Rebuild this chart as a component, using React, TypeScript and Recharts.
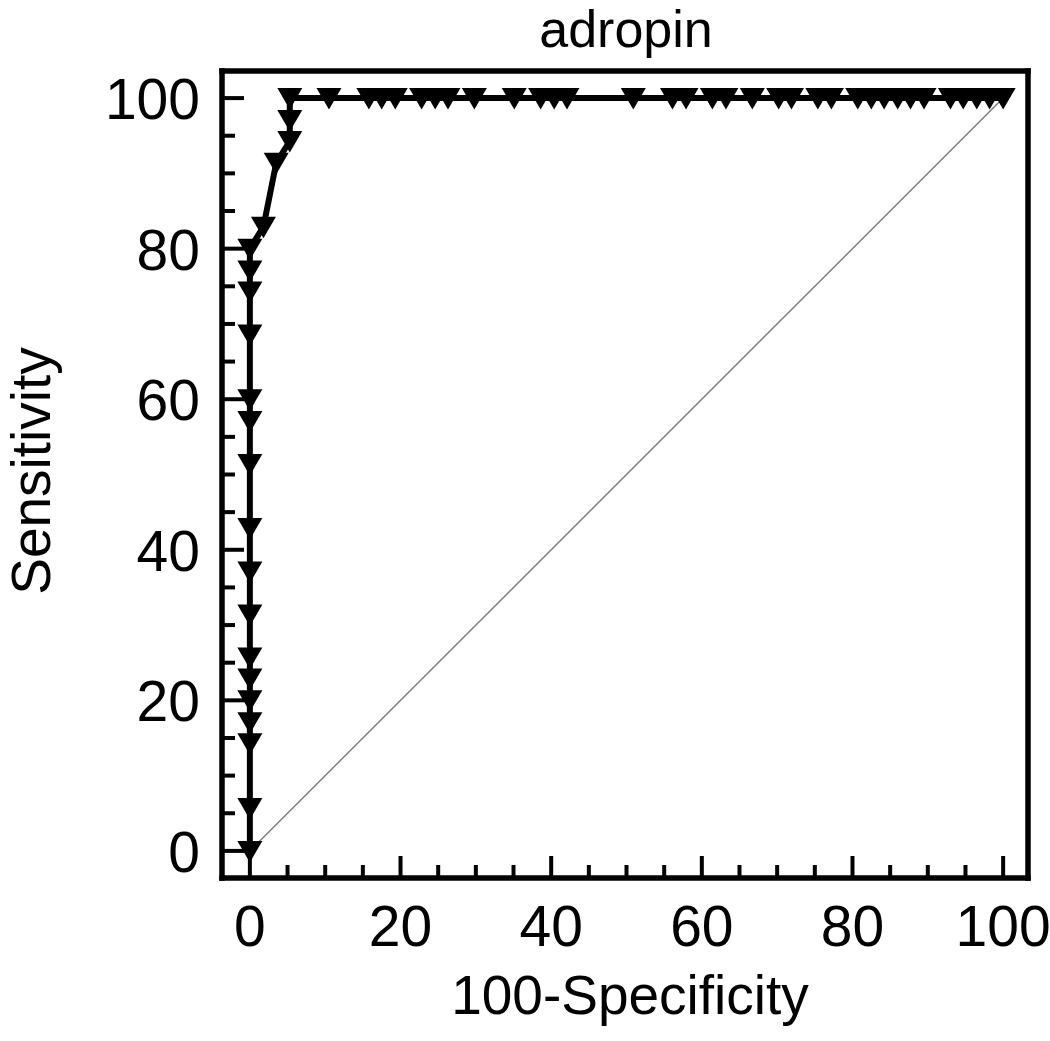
import React from "react";
import {
  ScatterChart,
  Scatter,
  XAxis,
  YAxis,
  Label,
} from "recharts";

// ROC points (100-Specificity, Sensitivity)
const fpr = [
  0, 0, 0, 0, 0, 0, 0, 0, 0, 0, 0, 0, 0, 0, 0, 0, 0,
  1.8, 3.5, 5.3, 5.3, 5.3,
  10.5, 15.8, 17.5, 19.3, 22.8, 24.6, 26.3, 29.8, 35.1, 38.6, 40.4, 42.1,
  50.9, 56.1, 57.9, 61.4, 63.2, 66.7, 70.2, 71.9, 75.4, 77.2, 80.7, 82.5,
  84.2, 86.0, 87.7, 89.5, 93.0, 94.7, 96.5, 98.2, 100,
];
const tpr = [
  0, 5.7, 14.3, 17.1, 20, 22.9, 25.7, 31.4, 37.1, 42.9, 51.4, 57.1, 60, 68.6,
  74.3, 77.1, 80,
  82.9, 91.4, 94.3, 97.1, 100,
  100, 100, 100, 100, 100, 100, 100, 100, 100, 100, 100, 100,
  100, 100, 100, 100, 100, 100, 100, 100, 100, 100, 100, 100,
  100, 100, 100, 100, 100, 100, 100, 100, 100,
];
const refX = [0, 100];
const refY = [0, 100];
const ticks = [0, 5, 10, 15, 20, 25, 30, 35, 40, 45, 50, 55, 60, 65, 70, 75, 80, 85, 90, 95, 100];

const rocData = fpr.map((x, i) => ({ x, y: tpr[i] }));
const refData = refX.map((x, i) => ({ x, y: refY[i] }));

const FONT = "'Liberation Sans', Arial, sans-serif";
const frameLine = { stroke: "#000", strokeWidth: 5.5, strokeLinecap: "square" as const };

function TriangleDown(props: any) {
  const { cx, cy } = props;
  if (cx == null || cy == null) return <g />;
  return (
    <polygon
      points={`${cx - 12.5},${cy - 10} ${cx + 12.5},${cy - 10} ${cx},${cy + 11.5}`}
      fill="#000"
    />
  );
}

function XTick(props: any) {
  const { x, y, payload } = props;
  const major = payload.value % 20 === 0;
  return (
    <g>
      <line x1={x} y1={y} x2={x} y2={y - (major ? 22 : 13)} stroke="#000" strokeWidth={4} />
      {major && (
        <text x={x} y={y + 68} textAnchor="middle" fontFamily={FONT} fontSize={57} fill="#000">
          {payload.value}
        </text>
      )}
    </g>
  );
}

function YTick(props: any) {
  const { x, y, payload } = props;
  const major = payload.value % 20 === 0;
  return (
    <g>
      <line x1={x} y1={y} x2={x + (major ? 22 : 13)} y2={y} stroke="#000" strokeWidth={4} />
      {major && (
        <text x={x - 22} y={y + 21} textAnchor="end" fontFamily={FONT} fontSize={57} fill="#000">
          {payload.value}
        </text>
      )}
    </g>
  );
}

export default function App() {
  return (
    <div style={{ position: "absolute", left: 0, top: 0, width: 1050, height: 1041, background: "#fff" }}>
      <ScatterChart
        width={1050}
        height={1041}
        margin={{ top: 51, right: 2, bottom: 103, left: 162 }}
      >
        <XAxis
          dataKey="x"
          type="number"
          domain={[-3.7, 103.3]}
          ticks={ticks}
          tick={<XTick />}
          tickSize={0}
          tickMargin={0}
          tickLine={false}
          axisLine={frameLine}
          height={60}
          interval={0}
        >
          <Label
            content={() => (
              <text x={630} y={1014} textAnchor="middle" fontFamily={FONT} fontSize={55} fill="#000">
                100-Specificity
              </text>
            )}
          />
        </XAxis>
        <XAxis
          xAxisId="top"
          orientation="top"
          dataKey="x"
          type="number"
          domain={[-3.7, 103.3]}
          tick={false}
          tickLine={false}
          axisLine={frameLine}
          height={20}
        >
          <Label
            content={() => (
              <text x={626} y={47} textAnchor="middle" fontFamily={FONT} fontSize={52} fill="#000">
                adropin
              </text>
            )}
          />
        </XAxis>
        <YAxis
          dataKey="y"
          type="number"
          domain={[-3.6, 103.6]}
          ticks={ticks}
          tick={<YTick />}
          tickSize={0}
          tickMargin={0}
          tickLine={false}
          axisLine={frameLine}
          width={60}
          interval={0}
        >
          <Label
            content={() => (
              <text
                x={50}
                y={471}
                transform="rotate(-90 50 471)"
                textAnchor="middle"
                fontFamily={FONT}
                fontSize={55}
                fill="#000"
              >
                Sensitivity
              </text>
            )}
          />
        </YAxis>
        <YAxis
          yAxisId="right"
          orientation="right"
          dataKey="y"
          type="number"
          domain={[-3.6, 103.6]}
          tick={false}
          tickLine={false}
          axisLine={frameLine}
          width={20}
        />
        <Scatter
          data={refData}
          line={{ stroke: "#7a7a7a", strokeWidth: 1.4 }}
          shape={() => <g />}
          isAnimationActive={false}
        />
        <Scatter
          data={rocData}
          line={{ stroke: "#000", strokeWidth: 6 }}
          shape={<TriangleDown />}
          isAnimationActive={false}
        />
      </ScatterChart>
    </div>
  );
}
